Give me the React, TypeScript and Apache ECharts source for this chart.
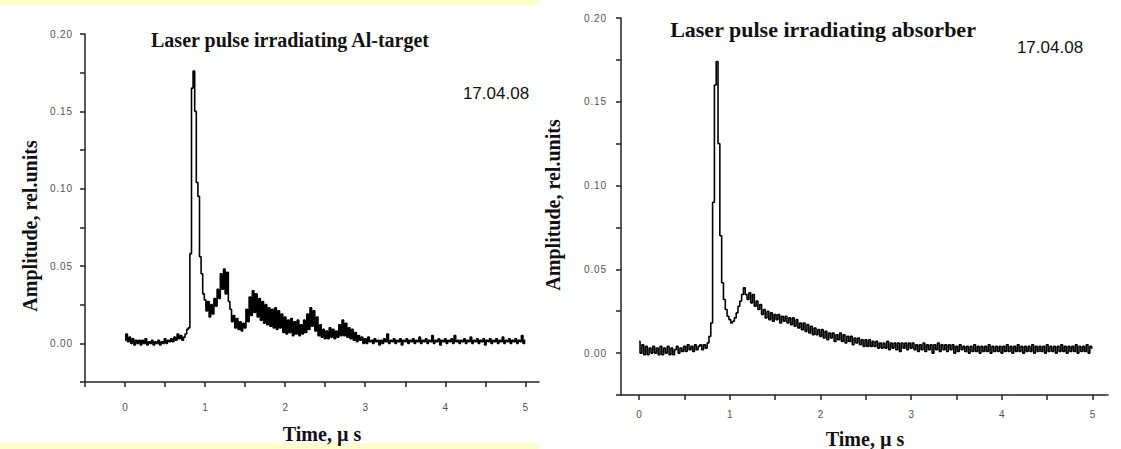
import { useEffect, useRef } from "react";
import * as echarts from "echarts";

// Sampling step of both traces (µs); traces start at t = 0
const TIME_STEP_US = 0.02;

// Amplitude in units of 1e-3 rel.units, Al-target trace (t = 0 … 5 µs, step 0.02)
const alTargetAmpMilli = [
  2, 6, 1, 4, 0, 3, -1, 2, 0, 2,
  -1, 2, 0, 3, -1, 1, 0, 2, -1, 1,
  0, 2, -1, 1, 0, 3, 0, 2, 1, 3,
  1, 4, 2, 6, 3, 5, 2, 4, 6, 9,
  10, 58, 165, 176, 150, 104, 95, 56, 45, 32,
  28, 21, 27, 17, 25, 19, 29, 24, 35, 29,
  45, 35, 48, 32, 46, 27, 22, 14, 18, 10,
  16, 9, 14, 8, 13, 10, 22, 14, 30, 18,
  34, 20, 32, 17, 29, 15, 27, 13, 25, 12,
  23, 11, 22, 10, 23, 9, 21, 10, 19, 7,
  17, 6, 15, 7, 16, 5, 14, 6, 15, 5,
  12, 6, 15, 7, 19, 9, 23, 11, 21, 8,
  17, 5, 12, 4, 9, 3, 8, 3, 10, 4,
  9, 3, 8, 4, 12, 5, 15, 5, 13, 4,
  10, 3, 9, 2, 7, 1, 5, 2, 4, 0,
  3, 0, 4, 1, 2, 0, 3, 1, 2, -1,
  2, 0, 3, 1, 6, 0, 2, 1, 3, 0,
  2, 1, 3, -1, 2, 1, 3, 0, 2, 1,
  3, 0, 2, 1, 4, 0, 2, 1, 3, 0,
  2, 1, 5, 0, 2, 1, 3, -1, 2, 1,
  3, 0, 2, 1, 3, 0, 5, 1, 2, 0,
  2, 1, 3, 0, 2, 1, 4, 0, 2, 1,
  3, 0, 2, 1, 3, -1, 2, 1, 3, 0,
  2, 1, 3, 0, 2, 1, 4, 0, 2, 1,
  3, 0, 2, 1, 3, 0, 2, 1, 5, 0,
  2,
];

// Amplitude in units of 1e-3 rel.units, absorber trace (t = 0 … 5 µs, step 0.02)
const absorberAmpMilli = [
  7, 0, 5, -1, 4, -1, 3, 0, 4, 0,
  3, -1, 4, -1, 3, 0, 4, -1, 3, -1,
  2, 4, 0, 3, 1, 4, 1, 5, 2, 4,
  1, 5, 2, 4, 5, 2, 5, 3, 6, 10,
  18, 90, 160, 174, 125, 70, 42, 32, 26, 22,
  20, 18, 19, 21, 24, 28, 31, 35, 39, 35,
  32, 36, 30, 35, 28, 31, 26, 29, 23, 26,
  21, 25, 20, 24, 19, 23, 20, 23, 18, 22,
  19, 22, 18, 21, 17, 21, 16, 20, 15, 18,
  14, 18, 13, 17, 12, 16, 11, 15, 11, 14,
  10, 14, 9, 13, 8, 12, 9, 12, 7, 11,
  8, 12, 7, 11, 6, 10, 7, 10, 5, 9,
  6, 9, 5, 8, 4, 8, 4, 8, 4, 7,
  4, 7, 3, 6, 3, 6, 3, 7, 2, 6,
  3, 6, 2, 6, 1, 6, 3, 6, 2, 6,
  3, 6, 2, 5, 1, 5, 2, 6, 1, 5,
  2, 5, 0, 5, 2, 6, 1, 5, 2, 5,
  1, 5, 2, 5, 0, 4, 1, 5, 2, 4,
  1, 4, 0, 4, 1, 5, 1, 4, 0, 4,
  1, 4, 1, 5, 0, 4, 1, 4, 1, 4,
  0, 4, 1, 5, 1, 4, 0, 4, 1, 5,
  1, 4, 0, 4, 1, 4, 1, 5, 0, 4,
  1, 4, 1, 4, 0, 5, 1, 4, 1, 4,
  0, 4, 1, 5, 1, 4, 0, 4, 1, 4,
  1, 5, 0, 4, 1, 4, 1, 5, 0, 4,
  3,
];

// Axis ticks / labels
const leftTimeTicks = [-0.5, 0, 0.5, 1, 1.5, 2, 2.5, 3, 3.5, 4, 4.5, 5];
const rightTimeTicks = [0, 0.5, 1, 1.5, 2, 2.5, 3, 3.5, 4, 4.5, 5];
const timeLabels = [0, 1, 2, 3, 4, 5];
const ampTicks = [-0.025, 0, 0.025, 0.05, 0.075, 0.1, 0.125, 0.15, 0.175, 0.2];
const ampLabels = [0, 0.05, 0.1, 0.15, 0.2];

const titleLeft = "Laser pulse irradiating Al-target";
const titleRight = "Laser pulse irradiating absorber";
const dateText = "17.04.08";
const xName = "Time, \u00b5 s";
const yName = "Amplitude, rel.units";

const toPairs = (vals: number[]) =>
  vals.map((v, i) => [Number((i * TIME_STEP_US).toFixed(2)), v / 1000]);

const SERIF = "'Liberation Serif', 'DejaVu Serif', serif";
const SANS = "'Liberation Sans', Arial, sans-serif";

function xAxisCfg(gridIndex: number, min: number, ticks: number[], margin: number) {
  return {
    type: "value",
    gridIndex,
    min,
    max: 5.17,
    splitLine: { show: false },
    axisLine: { onZero: false, lineStyle: { color: "#222", width: 1.5 } },
    axisTick: { show: true, length: 5, customValues: ticks, lineStyle: { color: "#222", width: 1.5 } },
    axisLabel: {
      customValues: timeLabels,
      margin,
      fontSize: 10,
      fontFamily: SANS,
      color: "#5a5050",
      formatter: (v: number) => String(v),
    },
  };
}

function yAxisCfg(gridIndex: number, margin: number) {
  return {
    type: "value",
    gridIndex,
    min: -0.025,
    max: 0.2,
    splitLine: { show: false },
    axisLine: { onZero: false, lineStyle: { color: "#222", width: 1.5 } },
    axisTick: { show: true, length: 5, customValues: ampTicks, lineStyle: { color: "#222", width: 1.5 } },
    axisLabel: {
      customValues: ampLabels,
      margin,
      fontSize: 10,
      fontFamily: SANS,
      color: "#5a5050",
      formatter: (v: number) => v.toFixed(2).split("").join("\u200a"),
    },
  };
}

export default function App() {
  const ref = useRef<HTMLDivElement>(null);
  useEffect(() => {
    if (!ref.current) return;
    const chart = echarts.init(ref.current, undefined, { renderer: "svg" });
    const txt = (x: number, y: number, text: string, font: string, extra: any = {}) => ({
      type: "text",
      x,
      y,
      z: 10,
      ...extra,
      style: { text, font, fill: "#111", align: "center", verticalAlign: "middle" },
    });
    chart.setOption({
      animation: false,
      backgroundColor: "#ffffff",
      grid: [
        { left: 85, top: 34, width: 454, height: 348 },
        { left: 621, top: 18, width: 487, height: 377 },
      ],
      xAxis: [xAxisCfg(0, -0.5, leftTimeTicks, 20), xAxisCfg(1, -0.2, rightTimeTicks, 14)],
      yAxis: [yAxisCfg(0, 13), yAxisCfg(1, 15)],
      series: [
        {
          type: "line",
          xAxisIndex: 0,
          yAxisIndex: 0,
          data: toPairs(alTargetAmpMilli),
          showSymbol: false,
          step: "middle",
          lineStyle: { color: "#000", width: 1.6 },
        },
        {
          type: "line",
          xAxisIndex: 1,
          yAxisIndex: 1,
          data: toPairs(absorberAmpMilli),
          showSymbol: false,
          step: "middle",
          lineStyle: { color: "#000", width: 1.6 },
        },
      ],
      graphic: [
        { type: "rect", shape: { x: 0, y: 0, width: 539, height: 5 }, style: { fill: "#ffffcc" }, z: 0 },
        { type: "rect", shape: { x: 0, y: 443, width: 539, height: 6 }, style: { fill: "#ffffcc" }, z: 0 },
        txt(290, 40, titleLeft, `bold 20px ${SERIF}`),
        txt(823, 29, titleRight, `bold 22px ${SERIF}`),
        txt(496, 93, dateText, `17px ${SANS}`),
        txt(1050, 47, dateText, `17px ${SANS}`),
        txt(322, 434, xName, `bold 20px ${SERIF}`),
        txt(865, 439, xName, `bold 20px ${SERIF}`),
        txt(30, 226, yName, `bold 20px ${SERIF}`, { rotation: Math.PI / 2 }),
        txt(553, 205, yName, `bold 20px ${SERIF}`, { rotation: Math.PI / 2 }),
      ],
    });
    return () => chart.dispose();
  }, []);
  return (
    <div
      ref={ref}
      style={{ position: "absolute", left: 0, top: 0, width: 1121, height: 449, background: "#fff" }}
    />
  );
}
